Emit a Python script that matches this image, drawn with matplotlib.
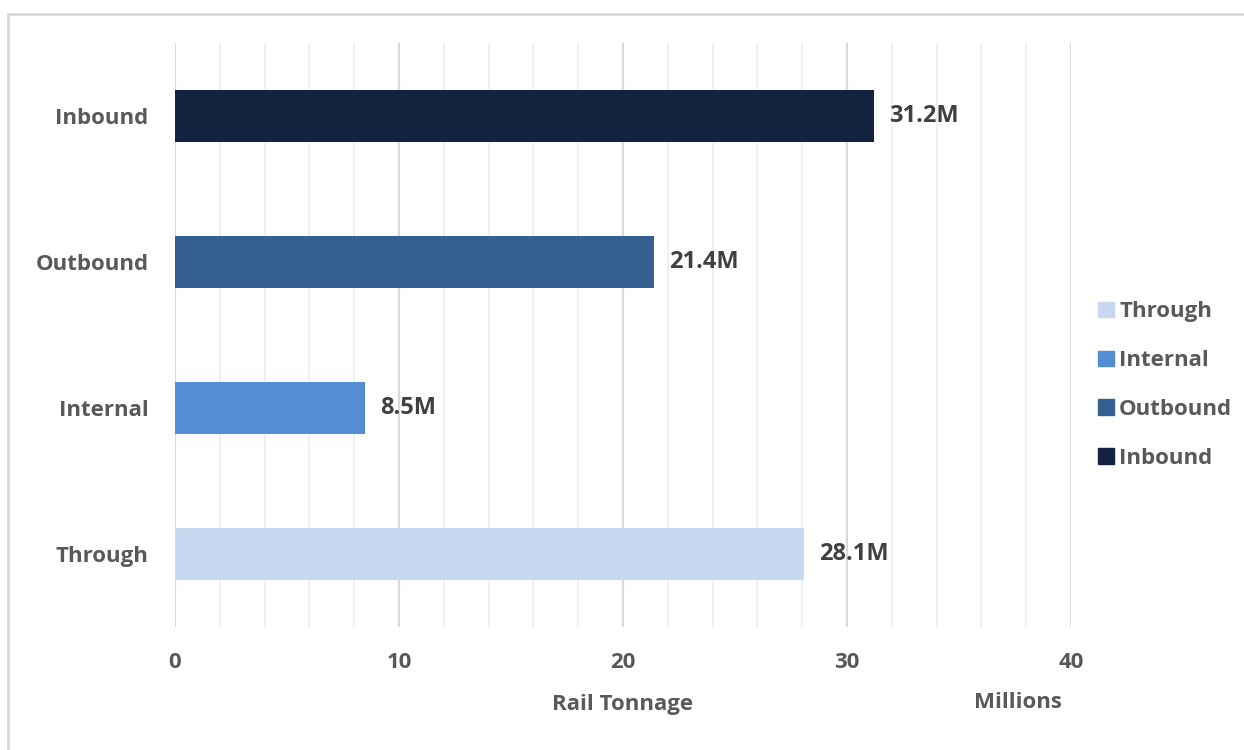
import matplotlib.pyplot as plt
from matplotlib.patches import Rectangle
from matplotlib.ticker import MultipleLocator

categories = ['Through', 'Internal', 'Outbound', 'Inbound']
tonnage_millions = [28.1, 8.5, 21.4, 31.2]
value_labels = ['28.1M', '8.5M', '21.4M', '31.2M']
bar_colors = ['#C6D9F1', '#548DD4', '#366092', '#12243F']

plt.rcParams['font.family'] = ['Open Sans', 'DejaVu Sans']
plt.rcParams['font.weight'] = 'bold'
text_gray = '#595959'
fs = 16

fig = plt.figure(figsize=(12.44, 7.5), dpi=100)
ax = fig.add_axes([175 / 1244, 1 - 627 / 750, (1071 - 175) / 1244, (627 - 43) / 750])

bars = ax.barh(categories, tonnage_millions, height=0.355, color=bar_colors, zorder=3)

for bar, lab in zip(bars, value_labels):
    ax.annotate(lab, (bar.get_width(), bar.get_y() + bar.get_height() / 2),
                xytext=(15, 0), textcoords='offset pixels',
                va='center', ha='left', fontsize=17, fontweight='bold', color='#404040')

ax.set_xlim(0, 40)
ax.set_ylim(-0.5, 3.5)
ax.xaxis.set_major_locator(MultipleLocator(10))
ax.xaxis.set_minor_locator(MultipleLocator(2))
ax.grid(axis='x', which='major', color='#D9D9D9', linewidth=1.6, zorder=0)
ax.grid(axis='x', which='minor', color='#F0F0F0', linewidth=1.4, zorder=0)
for s in ax.spines.values():
    s.set_visible(False)
ax.tick_params(axis='both', which='both', length=0)
ax.tick_params(axis='x', pad=18, labelsize=fs, labelcolor=text_gray)
ax.tick_params(axis='y', pad=19, labelsize=fs, labelcolor=text_gray)
ax.set_xlabel('Rail Tonnage', fontsize=fs, color=text_gray, labelpad=15, fontweight='bold')

fig.text(1018 / 1244, 1 - 702 / 750, 'Millions', ha='center', va='center',
         fontsize=fs, color=text_gray, fontweight='bold')

handles = [Rectangle((0, 0), 1, 1, color=c) for c in bar_colors]
fig.legend(handles, categories, loc='center left', bbox_to_anchor=(1078 / 1244, 1 - 385 / 750),
           frameon=False, fontsize=fs, labelcolor=text_gray, handlelength=0.7, handleheight=0.7,
           handletextpad=0.25, labelspacing=1.25)

# outer chart frame
fig.patches.append(Rectangle((8 / 1244, -0.1), 1.2, 1 - 14 / 750 + 0.1, transform=fig.transFigure,
                             fill=False, edgecolor='#D9D9D9', linewidth=2))

fig.savefig('out.png', dpi=100)
